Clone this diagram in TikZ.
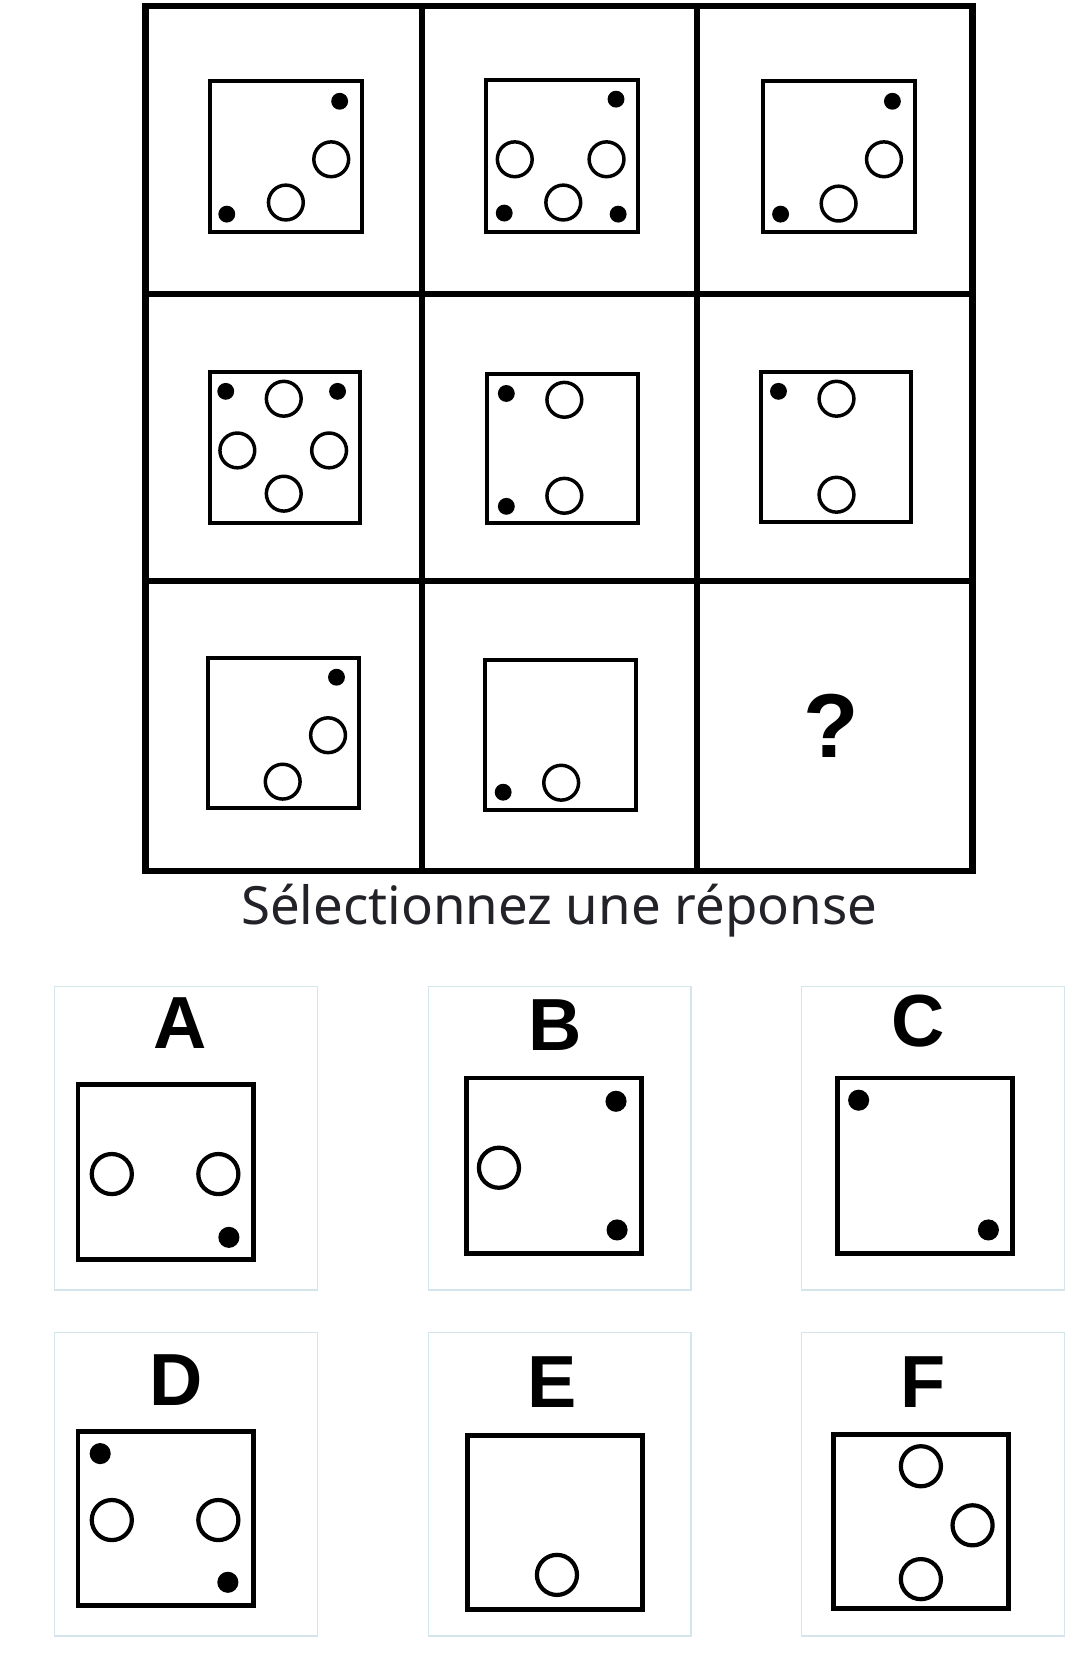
\documentclass[tikz,border=0pt]{standalone}
\usepackage{fontspec}
\setmainfont{Liberation Sans}
\newfontfamily\txtfont{Noto Sans}
\begin{document}
\begin{tikzpicture}[x=1pt,y=-1pt,
  sq/.style={line width=3.8pt},
  osq/.style={line width=4.5pt},
  ring/.style={line width=3.3pt},
  lbl/.style={font=\fontsize{70}{70}\selectfont\bfseries,text=black}]
\useasboundingbox (0,0) rectangle (1024,1568);
% grid
\draw[line width=6pt] (138,6) rectangle (922,826);
\draw[line width=6pt] (400,6)--(400,826) (661,6)--(661,826) (138,279)--(922,279) (138,551)--(922,551);
\foreach \a/\b/\c/\d in {199/77/343/220, 461/76/605/220, 723/77/867/220,
  199/353/341/496, 462/355/605/496, 721/353/864/495,
  197/624/340/766, 460/626/603/768}
  \draw[sq] (\a,\b) rectangle (\c,\d);
\foreach \p in {(322,96),(215,203),(584,94),(478,202),(586,203),(846,96),(740,203),
  (214,371),(320,371),(480,373),(480,480),(738,371),(319,642),(477,751)}
  \fill \p circle (8);
\foreach \p in {(314,151),(271,192),(488,151),(575,151),(534,192),(838,151),(795,193),
  (269,378),(225,427),(312,427),(269,468),(535,379),(535,470),(793,378),(793,469),
  (311,697),(268,741),(532,742)}
  \draw[ring] \p circle (16.5);
\node[font=\fontsize{86}{86}\selectfont\bfseries] (q) at (788,688) {?};
\node[font=\txtfont\fontsize{50}{50}\selectfont\bfseries, text={rgb,255:red,34;green,34;blue,40}] (t) at (530,863) {Sélectionnez une réponse};
% options
\foreach \x/\y in {52/935,406/935,760/935,52/1263,406/1263,760/1263}
  \draw[line width=1.2pt, draw={rgb,255:red,212;green,230;blue,236}] (\x,\y) rectangle ++(249,288);
\foreach \l/\x/\y in {A/171/970,B/526/972,C/870/968,D/167/1308,E/523/1310,F/875/1310}
  \node[lbl] (\l) at (\x,\y) {\l};
\foreach \a/\b/\c/\d in {74/1028/240/1194, 442/1022/608/1188, 794/1022/960/1188,
  74/1357/240/1522, 443/1361/609/1526, 790/1360/956/1525}
  \draw[osq] (\a,\b) rectangle (\c,\d);
\foreach \p in {(217,1173),(584,1044),(585,1166),(814,1043),(937,1166),(95,1378),(216,1500)}
  \fill \p circle (10);
\foreach \p in {(106,1113),(207,1113),(473,1107),(106,1441),(207,1441),(528,1493),
  (873,1390),(922,1446),(873,1497)}
  \draw[line width=4pt] \p circle (19);
\end{tikzpicture}
\end{document}
